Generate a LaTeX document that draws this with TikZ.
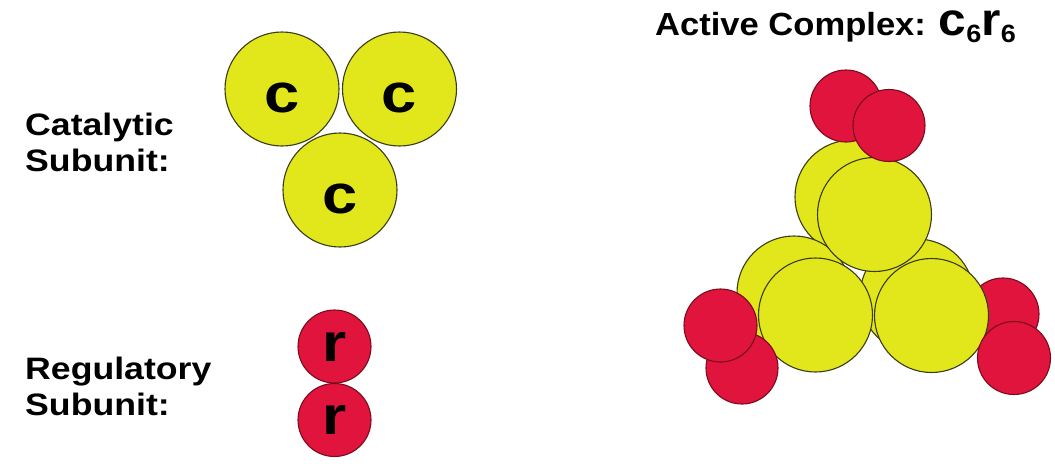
\documentclass[tikz,border=0pt]{standalone}
\usepackage{fontspec}
\setmainfont{Liberation Sans}
\newfontfamily\labfont{Liberation Sans}[FakeStretch=1.15]
\newfontfamily\ttlfont{Liberation Sans}[FakeStretch=1.08]
\definecolor{subyellow}{HTML}{E2E71C}
\definecolor{subred}{HTML}{E0143C}
\definecolor{yedge}{HTML}{3C3C14}
\definecolor{redge}{HTML}{7A0C1E}
\begin{document}
\begin{tikzpicture}[x=1pt,y=-1pt,
  cat/.style={circle,draw=yedge,fill=subyellow,line width=1.1pt,minimum size=114pt,inner sep=0pt},
  reg/.style={circle,draw=redge,fill=subred,line width=1.1pt,minimum size=73pt,inner sep=0pt},
  letter/.style={font=\labfont\bfseries\fontsize{55}{55}\selectfont,inner sep=0pt},
  rletter/.style={font=\labfont\bfseries\fontsize{54}{54}\selectfont},
  lab/.style={font=\labfont\bfseries\fontsize{31}{31}\selectfont,anchor=base west,inner sep=0pt}]
\useasboundingbox (0,0) rectangle (1055,466);

% side labels
\node[lab] (cat1) at (25,135) {Catalytic};
\node[lab] (cat2) at (25,171) {Subunit:};
\node[lab] (reg1) at (25,379) {Regulatory};
\node[lab] (reg2) at (25,415) {Subunit:};

% catalytic trimer
\node[cat] (c1) at (282,89) {};
\node[cat] (c2) at (399.5,89) {};
\node[cat] (c3) at (340,190) {};
\node[letter] at ([yshift=-9pt]c1.center) {c};
\node[letter] at ([yshift=-9pt]c2.center) {c};
\node[letter] at ([yshift=-9pt]c3.center) {c};

% regulatory dimer
\node[reg,rletter] (r1) at (334.5,346.5) {r};
\node[reg,rletter] (r2) at (334.5,420) {r};

% title
\node[anchor=base west,inner sep=0pt] (title) at (655,35)
  {\ttlfont\bfseries\fontsize{32}{32}\selectfont Active Complex: \fontsize{46}{46}\selectfont c\raisebox{-7pt}{\fontsize{25}{25}\selectfont 6}r\raisebox{-7pt}{\fontsize{25}{25}\selectfont 6}};

% c6r6 complex: rear catalytic layer
\node[cat] (bt) at (852,197) {};
\node[cat] (bl) at (794,293) {};
\node[cat] (br) at (917,296) {};
\node[reg,minimum size=72pt] (rru) at (1003,314) {};
% front catalytic layer
\node[cat] (ft) at (874.5,214.5) {};
\node[cat] (fl) at (815.5,315) {};
\node[cat] (fr) at (931.5,315.5) {};
% regulatory dimers
\node[reg,minimum size=72pt] (rll) at (742,368) {};
\node[reg] (rlu) at (720.5,325.5) {};
\node[reg] (rrl) at (1014,358) {};
\node[reg,minimum size=72pt] (rtl) at (846,106) {};
\node[reg,minimum size=72pt] (rtr) at (889,125.5) {};
\end{tikzpicture}
\end{document}
